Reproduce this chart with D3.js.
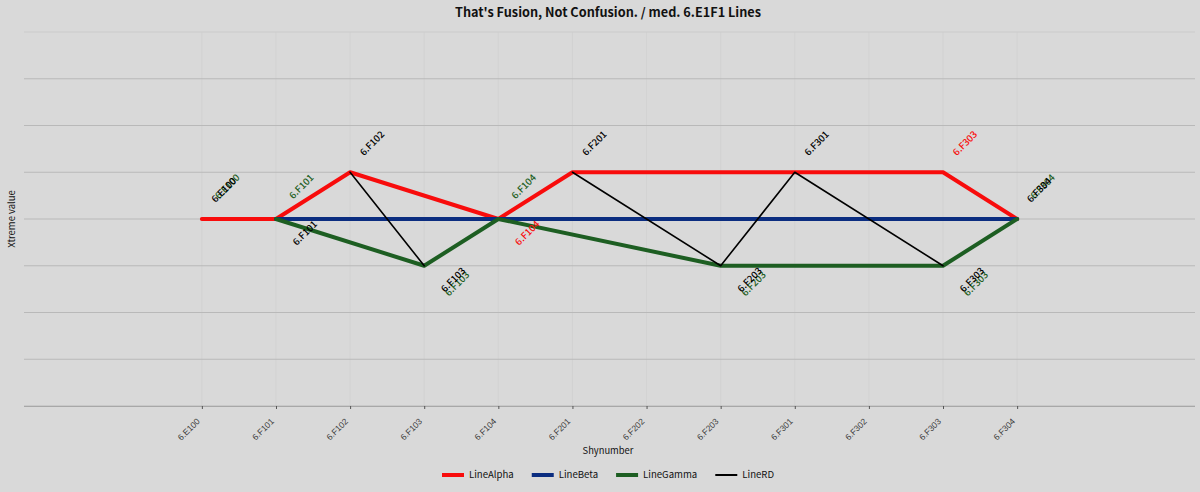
<!DOCTYPE html>
<html>
<head>
<meta charset="utf-8">
<script src="https://cdn.jsdelivr.net/npm/d3@7"></script>
<style>
  body { margin: 0; background: #d9d9d9; }
  svg { display: block; font-family: "Noto Sans CJK SC", "Noto Sans", sans-serif; }
</style>
</head>
<body>
<svg id="chart" width="1200" height="492"></svg>
<script>
// categories on the x axis
const categories = ['6.E100', '6.F101', '6.F102', '6.F103', '6.F104', '6.F201',
                    '6.F202', '6.F203', '6.F301', '6.F302', '6.F303', '6.F304'];

// series values (category, value)
const alphaPoints = [['6.E100', 0], ['6.F101', 0], ['6.F102', 1], ['6.F104', 0],
                     ['6.F201', 1], ['6.F301', 1], ['6.F303', 1], ['6.F304', 0]];
const betaPoints = [['6.F101', 0], ['6.F304', 0]];
const gammaPoints = [['6.F101', 0], ['6.F103', -1], ['6.F104', 0], ['6.F203', -1],
                     ['6.F303', -1], ['6.F304', 0]];
const rdSegments = [
  [['6.F102', 1], ['6.F103', -1]],
  [['6.F201', 1], ['6.F203', -1], ['6.F301', 1], ['6.F303', -1]]
];

// point labels: category, value, text, series, side
const pointLabels = [
  ['6.E100', 0, '6.E100', 'LineGamma', 'up'],
  ['6.E100', 0, '6.E100', 'LineRD', 'up'],
  ['6.F101', 0, '6.F101', 'LineGamma', 'up'],
  ['6.F101', 0, '6.F101', 'LineRD', 'down'],
  ['6.F102', 1, '6.F102', 'LineRD', 'up'],
  ['6.F103', -1, '6.F103', 'LineGamma', 'down'],
  ['6.F103', -1, '6.F103', 'LineRD', 'down'],
  ['6.F104', 0, '6.F104', 'LineGamma', 'up'],
  ['6.F104', 0, '6.F104', 'LineAlpha', 'down'],
  ['6.F201', 1, '6.F201', 'LineRD', 'up'],
  ['6.F203', -1, '6.F203', 'LineGamma', 'down'],
  ['6.F203', -1, '6.F203', 'LineRD', 'down'],
  ['6.F301', 1, '6.F301', 'LineRD', 'up'],
  ['6.F303', 1, '6.F303', 'LineAlpha', 'up'],
  ['6.F303', -1, '6.F303', 'LineGamma', 'down'],
  ['6.F303', -1, '6.F303', 'LineRD', 'down'],
  ['6.F304', 0, '6.F304', 'LineGamma', 'up'],
  ['6.F304', 0, '6.F304', 'LineRD', 'up']
];

const seriesNames = ['LineAlpha', 'LineBeta', 'LineGamma', 'LineRD'];
const yTicks = [-4, -3, -2, -1, 0, 1, 2, 3, 4];

const colors = { LineAlpha: '#f80c0c', LineBeta: '#0b2d80', LineGamma: '#1d5e22', LineRD: '#000000' };
const widths = { LineAlpha: 4, LineBeta: 4, LineGamma: 4, LineRD: 1.6 };

const svg = d3.select('#chart');
const plotLeft = 24, plotRight = 1195, plotTop = 32, plotBottom = 406;

const x = d3.scalePoint().domain(categories).range([plotLeft, plotRight]).padding(2.4);
const y = d3.scaleLinear().domain([-4, 4]).range([plotBottom, plotTop]);

// grid
svg.append('g').selectAll('line')
    .data(categories)
    .enter().append('line')
    .attr('x1', d => x(d)).attr('x2', d => x(d))
    .attr('y1', plotTop).attr('y2', plotBottom)
    .attr('stroke', '#cfcfcf')
    .attr('stroke-width', 0.6);

svg.append('g').selectAll('line')
    .data(yTicks)
    .enter().append('line')
    .attr('x1', plotLeft).attr('x2', plotRight)
    .attr('y1', d => y(d)).attr('y2', d => y(d))
    .attr('stroke', d => d === 4 ? '#cbcbcb' : '#b9b9b9')
    .attr('stroke-width', 1);

// x axis
const xAxis = svg.append('g')
    .attr('transform', `translate(0,${plotBottom})`)
    .call(d3.axisBottom(x).tickSize(3).tickPadding(4));
xAxis.select('.domain').attr('stroke', '#a8a8a8').attr('d', `M${plotLeft},0.5H${plotRight}`);
xAxis.selectAll('.tick line').attr('stroke', '#555');
xAxis.selectAll('.tick text')
    .attr('fill', '#3a3a3a')
    .attr('font-size', 8.5)
    .attr('text-anchor', 'end')
    .attr('dy', 0)
    .attr('y', 0).attr('x', 0)
    .attr('transform', 'translate(-2,16) rotate(-45)');

// lines
const line = d3.line().x(d => x(d[0])).y(d => y(d[1]));
const drawLine = (pts, name) => svg.append('path')
    .attr('d', line(pts))
    .attr('fill', 'none')
    .attr('stroke', colors[name])
    .attr('stroke-width', widths[name])
    .attr('stroke-linejoin', 'round')
    .attr('stroke-linecap', 'round');

drawLine(alphaPoints, 'LineAlpha');
drawLine(betaPoints, 'LineBeta');
drawLine(gammaPoints, 'LineGamma');
rdSegments.forEach(seg => drawLine(seg, 'LineRD'));

// point labels
svg.append('g').selectAll('text')
    .data(pointLabels)
    .enter().append('text')
    .attr('transform', d => {
      let dx = d[4] === 'up' ? 22 : 29;
      let dy = d[4] === 'up' ? -29 : 14;
      if (d[3] === 'LineGamma') {
        if (d[4] === 'up') { dx += 3.5; dy -= 3.5; } else { dx += 4; dy += 4; }
      }
      return `translate(${x(d[0]) + dx},${y(d[1]) + dy}) rotate(-45)`;
    })
    .attr('text-anchor', 'middle')
    .attr('dy', '0.35em')
    .attr('font-size', 9.5)
    .attr('font-weight', 500)
    .attr('fill', d => colors[d[3]])
    .text(d => d[2]);

// titles
svg.append('text')
    .attr('x', 608).attr('y', 17)
    .attr('text-anchor', 'middle')
    .attr('font-size', 12.7)
    .attr('font-weight', 'bold')
    .attr('fill', '#111')
    .text("That's Fusion, Not Confusion. / med. 6.E1F1 Lines");

svg.append('text')
    .attr('x', 608).attr('y', 454)
    .attr('text-anchor', 'middle')
    .attr('font-size', 9.4)
    .attr('fill', '#111')
    .text('Shynumber');

svg.append('text')
    .attr('transform', `translate(15,${y(0)}) rotate(-90)`)
    .attr('text-anchor', 'middle')
    .attr('font-size', 9.5)
    .attr('fill', '#111')
    .text('Xtreme value');

// legend
const legend = svg.append('g').attr('transform', 'translate(0,475)');
const items = legend.selectAll('g')
    .data(seriesNames)
    .enter().append('g');
items.append('line')
    .attr('x1', 0).attr('x2', 22)
    .attr('stroke', d => colors[d])
    .attr('stroke-width', d => d === 'LineRD' ? 2 : 4);
items.append('text')
    .attr('x', 27).attr('dy', '0.35em')
    .attr('font-size', 9.6)
    .attr('fill', '#111')
    .text(d => d);
const offsets = [];
let lx = 0;
items.each(function () {
  offsets.push(lx);
  lx += 27 + this.querySelector('text').getComputedTextLength() + 18;
});
const startX = 608 - (lx - 18) / 2;
items.attr('transform', (d, i) => `translate(${startX + offsets[i]},0)`);
</script>
</body>
</html>
